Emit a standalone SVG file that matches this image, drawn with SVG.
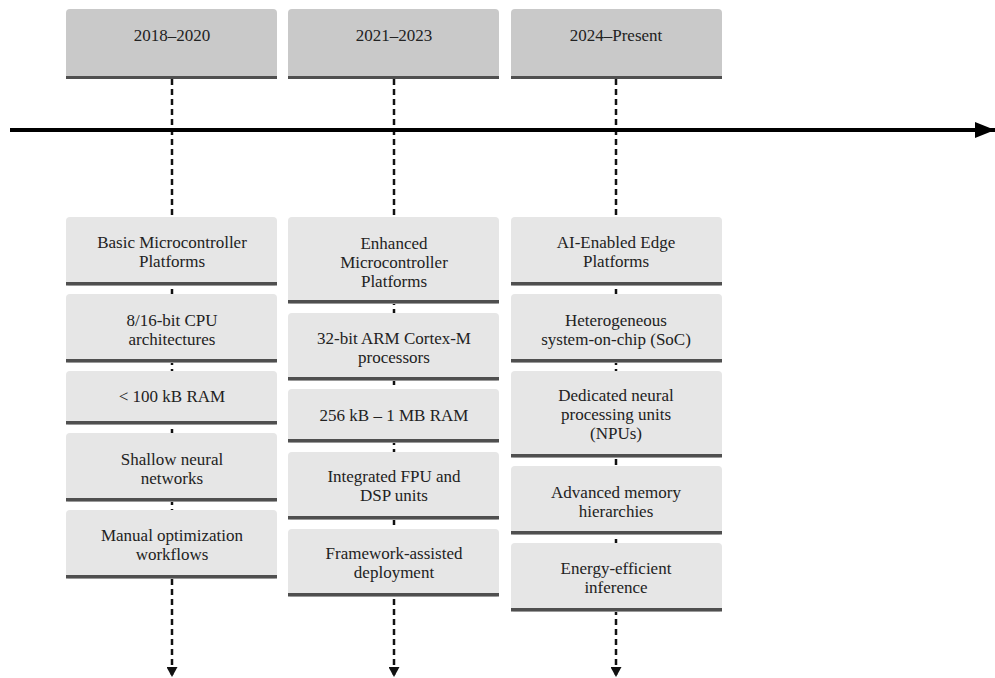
<svg xmlns="http://www.w3.org/2000/svg" width="995" height="678" viewBox="0 0 995 678">
<style>
.hdr{fill:#c9c9c9}
.box{fill:#e6e6e6}
.bar{fill:#4f4f4f}
.dash{stroke:#111;stroke-width:2.5;stroke-dasharray:6 4;fill:none}
</style>
<defs>
<marker id="ah" viewBox="0 0 10 11" refX="10" refY="5.5" markerWidth="10" markerHeight="11" markerUnits="userSpaceOnUse" orient="auto">
<path d="M0,0 L10,5.5 L0,11 Z" fill="#111"/>
</marker>
<marker id="big" viewBox="0 0 20 16" refX="20" refY="8" markerWidth="20" markerHeight="16" markerUnits="userSpaceOnUse" orient="auto">
<path d="M0,0 L20,8 L0,16 Z" fill="#000"/>
</marker>
</defs>
<rect width="995" height="678" fill="#fff"/>
<g id="connectors">
<line class="dash" x1="172" y1="79" x2="172" y2="677" marker-end="url(#ah)"/>
<line class="dash" x1="394" y1="79" x2="394" y2="677" marker-end="url(#ah)"/>
<line class="dash" x1="616" y1="79" x2="616" y2="677" marker-end="url(#ah)"/>
<line x1="10" y1="130" x2="995" y2="130" stroke="#000" stroke-width="4" marker-end="url(#big)"/>
</g>
<g font-family="Liberation Serif, Times New Roman, serif" font-size="17" fill="#222" text-anchor="middle">
<g id="h1"><rect class="hdr" x="66" y="9" width="211" height="70" rx="4"/><rect class="bar" x="66" y="76" width="211" height="3"/><text x="172" y="41">2018–2020</text></g>
<g id="h2"><rect class="hdr" x="288" y="9" width="211" height="70" rx="4"/><rect class="bar" x="288" y="76" width="211" height="3"/><text x="394" y="41">2021–2023</text></g>
<g id="h3"><rect class="hdr" x="511" y="9" width="211" height="70" rx="4"/><rect class="bar" x="511" y="76" width="211" height="3"/><text x="616" y="41">2024–Present</text></g>

<g id="c1b1"><rect class="box" x="66" y="217" width="211" height="69" rx="4"/><rect class="bar" x="66" y="282" width="211" height="3.5"/><text x="172" y="247.75">Basic Microcontroller</text><text x="172" y="266.75">Platforms</text></g>
<g id="c1b2"><rect class="box" x="66" y="294" width="211" height="69" rx="4"/><rect class="bar" x="66" y="359" width="211" height="3.5"/><text x="172" y="325.5">8/16-bit CPU</text><text x="172" y="344.5">architectures</text></g>
<g id="c1b3"><rect class="box" x="66" y="371" width="211" height="54" rx="4"/><rect class="bar" x="66" y="421" width="211" height="3.5"/><text x="172" y="402">&lt; 100 kB RAM</text></g>
<g id="c1b4"><rect class="box" x="66" y="433" width="211" height="69" rx="4"/><rect class="bar" x="66" y="498" width="211" height="3.5"/><text x="172" y="464.5">Shallow neural</text><text x="172" y="483.5">networks</text></g>
<g id="c1b5"><rect class="box" x="66" y="510" width="211" height="69" rx="4"/><rect class="bar" x="66" y="575" width="211" height="3.5"/><text x="172" y="541.25">Manual optimization</text><text x="172" y="560.25">workflows</text></g>

<g id="c2b1"><rect class="box" x="288" y="217" width="211" height="87" rx="4"/><rect class="bar" x="288" y="300" width="211" height="3.5"/><text x="394" y="248.5">Enhanced</text><text x="394" y="267.5">Microcontroller</text><text x="394" y="286.5">Platforms</text></g>
<g id="c2b2"><rect class="box" x="288" y="313" width="211" height="68" rx="4"/><rect class="bar" x="288" y="377" width="211" height="3.5"/><text x="394" y="344">32-bit ARM Cortex-M</text><text x="394" y="363">processors</text></g>
<g id="c2b3"><rect class="box" x="288" y="389" width="211" height="54" rx="4"/><rect class="bar" x="288" y="439" width="211" height="3.5"/><text x="394" y="420.5">256 kB – 1 MB RAM</text></g>
<g id="c2b4"><rect class="box" x="288" y="452" width="211" height="68" rx="4"/><rect class="bar" x="288" y="516" width="211" height="3.5"/><text x="394" y="481.5">Integrated FPU and</text><text x="394" y="500.5">DSP units</text></g>
<g id="c2b5"><rect class="box" x="288" y="529" width="211" height="68" rx="4"/><rect class="bar" x="288" y="593" width="211" height="3.5"/><text x="394" y="558.75">Framework-assisted</text><text x="394" y="577.75">deployment</text></g>

<g id="c3b1"><rect class="box" x="511" y="217" width="211" height="69" rx="4"/><rect class="bar" x="511" y="282" width="211" height="3.5"/><text x="616" y="247.75">AI-Enabled Edge</text><text x="616" y="266.75">Platforms</text></g>
<g id="c3b2"><rect class="box" x="511" y="294" width="211" height="69" rx="4"/><rect class="bar" x="511" y="359" width="211" height="3.5"/><text x="616" y="325.5">Heterogeneous</text><text x="616" y="344.5">system-on-chip (SoC)</text></g>
<g id="c3b3"><rect class="box" x="511" y="371" width="211" height="87" rx="4"/><rect class="bar" x="511" y="454" width="211" height="3.5"/><text x="616" y="400.5">Dedicated neural</text><text x="616" y="419.5">processing units</text><text x="616" y="438.5">(NPUs)</text></g>
<g id="c3b4"><rect class="box" x="511" y="466" width="211" height="69" rx="4"/><rect class="bar" x="511" y="531" width="211" height="3.5"/><text x="616" y="497.75">Advanced memory</text><text x="616" y="516.75">hierarchies</text></g>
<g id="c3b5"><rect class="box" x="511" y="543" width="211" height="69" rx="4"/><rect class="bar" x="511" y="608" width="211" height="3.5"/><text x="616" y="573.5">Energy-efficient</text><text x="616" y="592.5">inference</text></g>
</g>
</svg>
